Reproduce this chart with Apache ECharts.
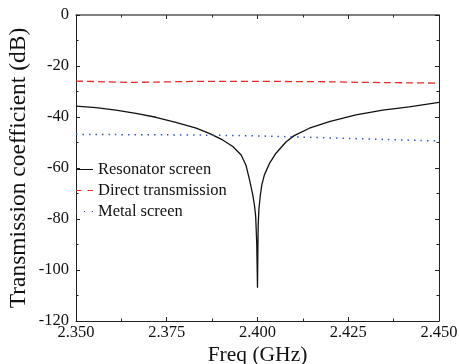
<!DOCTYPE html>
<html>
<head>
<meta charset="utf-8">
<script src="https://cdn.jsdelivr.net/npm/echarts@6/dist/echarts.min.js"></script>
<style>html,body{margin:0;padding:0;background:#fff;}#c{width:459px;height:364px;}</style>
</head>
<body>
<div id="c"></div>
<script>
const xTicks = [2.350, 2.375, 2.400, 2.425, 2.450];
const yTicks = [0, -20, -40, -60, -80, -100, -120];
const seriesNames = ['Resonator screen', 'Direct transmission', 'Metal screen'];

const resFreq = [2.350,2.3555,2.361,2.3665,2.372,2.3775,2.3831,2.3867,2.3904,2.3932,2.3955,2.3968,2.3977,2.3987,2.3992,2.3995,2.3998,2.4000,2.4001,2.4002,2.4004,2.4008,2.4012,2.4019,2.4033,2.4051,2.4079,2.4101,2.4143,2.4198,2.4271,2.4345,2.4418,2.4500];
const resVal  = [-35.7,-36.3,-37.3,-38.6,-40.1,-42.1,-44.4,-46.4,-49.0,-51.6,-54.9,-58.8,-64,-70.5,-75,-79,-90,-107,-92,-82,-76,-70.5,-66.5,-62.7,-58.2,-54.2,-49.7,-47.3,-44.4,-41.8,-39.2,-37.3,-36.0,-34.3];

const dirFreq = [2.350,2.358,2.365,2.372,2.380,2.390,2.400,2.410,2.420,2.428,2.435,2.442,2.450];
const dirVal  = [-25.9,-26.2,-26.4,-26.3,-26.1,-26.0,-26.0,-26.1,-26.2,-26.4,-26.5,-26.6,-26.7];

const metFreq = [2.350,2.360,2.375,2.385,2.395,2.405,2.415,2.425,2.435,2.445,2.450];
const metVal  = [-46.8,-46.9,-47.0,-47.1,-47.3,-47.6,-48.0,-48.4,-48.8,-49.2,-49.4];

const zip = (a, b) => a.map((v, i) => [v, b[i]]);
const FONT = '"Liberation Serif","Times New Roman",serif';
const COLORS = ['#111111', '#e52a2a', '#3557c8'];
const ICONS = [
  'path://M0,0H17V1H0Z',
  'path://M0,0H5.5V1H0Z M11.5,0H17V1H11.5Z',
  'path://M0,0H1.2V1H0Z M7.9,0H9.1V1H7.9Z M15.8,0H17V1H15.8Z'
];

const chart = echarts.init(document.getElementById('c'), null, {renderer: 'canvas'});
const axisCommon = {
  axisLine: {show: true, onZero: false, lineStyle: {color: '#222', width: 1}},
  axisTick: {show: true, inside: true, length: 4, lineStyle: {color: '#222'}},
  minorTick: {show: true, splitNumber: 2, length: 2.5, lineStyle: {color: '#222'}},
  splitLine: {show: false}
};
chart.setOption({
  animation: false,
  backgroundColor: '#fff',
  grid: {left: 76, right: 20, top: 15, bottom: 43, containLabel: false, outerBoundsMode: 'none'},
  legend: {
    orient: 'vertical', left: 76, top: 161, padding: 0,
    itemWidth: 17, itemHeight: 1.5, itemGap: 4,
    textStyle: {fontFamily: FONT, fontSize: 16.5, color: '#111'},
    data: seriesNames.map((n, i) => ({name: n, icon: ICONS[i], itemStyle: {color: COLORS[i]}}))
  },
  xAxis: [
    Object.assign({}, axisCommon, {
      type: 'value', min: 2.35, max: 2.45, interval: 0.025, position: 'bottom',
      name: 'Freq (GHz)', nameLocation: 'middle', nameGap: 23, nameMoveOverlap: false,
      nameTextStyle: {fontFamily: FONT, fontSize: 21.5, color: '#111'},
      axisLabel: {fontFamily: FONT, fontSize: 16.5, color: '#111', margin: 3,
        formatter: v => v.toFixed(3)}
    }),
    Object.assign({}, axisCommon, {
      type: 'value', min: 2.35, max: 2.45, interval: 0.025, position: 'top',
      axisLine: {show: true, onZero: false, lineStyle: {color: '#555', width: 1.5}},
      axisLabel: {show: false}
    })
  ],
  yAxis: [
    Object.assign({}, axisCommon, {
      type: 'value', min: -120, max: 0, interval: 20, position: 'left',
      name: 'Transmission coefficient (dB)', nameLocation: 'middle', nameGap: 45, nameMoveOverlap: false,
      nameTextStyle: {fontFamily: FONT, fontSize: 23.5, color: '#111'},
      axisLabel: {fontFamily: FONT, fontSize: 16.5, color: '#111', margin: 7}
    }),
    Object.assign({}, axisCommon, {
      type: 'value', min: -120, max: 0, interval: 20, position: 'right',
      axisLabel: {show: false}
    })
  ],
  series: [
    {name: seriesNames[0], type: 'line', data: zip(resFreq, resVal), symbol: 'none',
      lineStyle: {color: COLORS[0], width: 1.3, type: 'solid'}, itemStyle: {color: COLORS[0]}},
    {name: seriesNames[1], type: 'line', data: zip(dirFreq, dirVal), symbol: 'none', smooth: 0.3,
      lineStyle: {color: COLORS[1], width: 1.3, type: [7, 4]}, itemStyle: {color: COLORS[1]}},
    {name: seriesNames[2], type: 'line', data: zip(metFreq, metVal), symbol: 'none', smooth: 0.3,
      lineStyle: {color: COLORS[2], width: 1.5, type: [1.5, 5]}, itemStyle: {color: COLORS[2]}}
  ]
});
</script>
</body>
</html>
